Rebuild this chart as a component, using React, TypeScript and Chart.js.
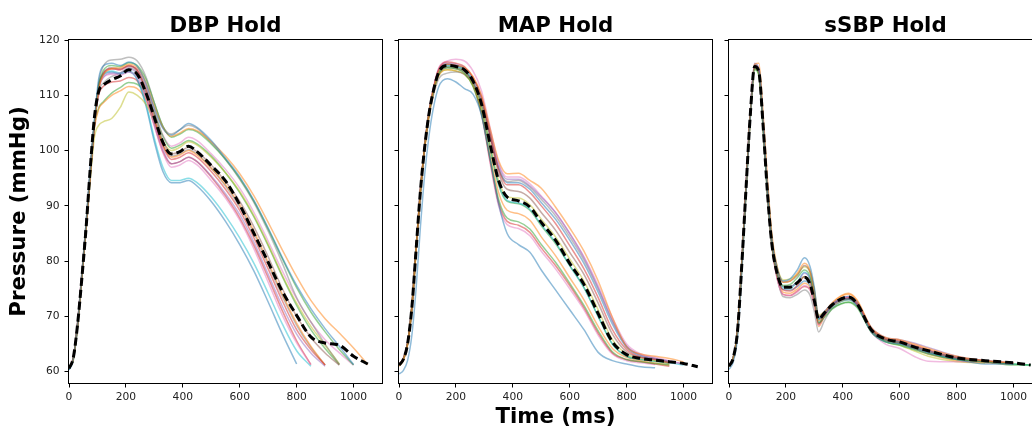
import React, { useEffect, useRef } from "react";
import { Chart, registerables } from "chart.js";
Chart.register(...registerables);

const PANEL_TITLES = ["DBP Hold", "MAP Hold", "sSBP Hold"];
const Y_LABEL = "Pressure (mmHg)";
const X_LABEL = "Time (ms)";
const Y_TICKS = [60, 70, 80, 90, 100, 110, 120];
const X_TICKS = [0, 200, 400, 600, 800, 1000];
const TAB10 = ["31,119,180", "255,127,14", "44,160,44", "214,39,40", "148,103,189", "140,86,75", "227,119,194", "127,127,127", "188,189,34", "23,190,207"];

// ---------- DBP Hold ----------
const dbpTime = [0, 15, 30, 45, 60, 75, 90, 105, 120, 150, 180, 210, 240, 270, 300, 330, 360, 390, 420, 450, 500, 550, 600, 650, 700, 750, 800, 850, 900, 950, 1000, 1050];
const dbpMean = [60.6, 62.5, 68.5, 76.8, 86, 97, 106.3, 110.8, 111.8, 112.8, 113.5, 114.6, 113.8, 110.5, 106, 101.5, 99.4, 99.8, 100.8, 99.8, 97.3, 94.5, 90.2, 85, 79.8, 74.5, 70.2, 66.3, 65.2, 64.8, 62.8, 61.4];
const dbpTraces = [
  [60.4, 62.4, 68.6, 77.6, 86.8, 96.8, 106, 113.2, 115.3, 115.8, 115.4, 116, 115.2, 112.2, 107.6, 104, 102.8, 103.8, 104.9, 104.2, 101.8, 98.6, 95.2, 91, 86, 80.6, 75.6, 71.4, 67.8, 64.6, 61.3, null],
  [60.6, 62.2, 68.2, 77, 86, 95.8, 104.8, 111.2, 113.6, 114.8, 115, 115.6, 115, 112.4, 108, 104.2, 102.6, 103.2, 104, 103.6, 101.6, 99, 95.8, 91.8, 87, 82, 77.2, 72.9, 69.6, 67, 64.3, 61.3],
  [60.5, 62.3, 68.4, 77.2, 86.4, 96.2, 105.2, 112, 114.4, 115.4, 115.2, 115.9, 115.4, 113, 108.6, 104.4, 102.4, 103, 103.8, 103.4, 101.2, 98.4, 95, 90.8, 85.8, 80.4, 75.2, 70.8, 67.2, 64, 61.2, null],
  [60.6, 62.5, 68.6, 77.4, 86.4, 96.2, 105, 111.6, 113.8, 114.8, 114.6, 115.4, 114.4, 110.8, 105.6, 100.8, 98.4, 98.8, 99.6, 98.8, 96.2, 93, 89.2, 84.2, 78.6, 72.8, 67.6, 64, 61.2, null, null, null],
  [60.5, 62.4, 68.4, 77.2, 86.2, 96, 104.8, 111.2, 113.2, 114, 114, 114.8, 113.8, 110.2, 105, 100.2, 97.6, 98, 98.8, 98, 95.4, 92.2, 88.4, 83.4, 77.6, 71.8, 66.8, 63.4, 61, null, null, null],
  [60.6, 62.4, 68.5, 77.3, 86.4, 96.3, 105.2, 111.8, 114, 115, 114.8, 115.3, 114.6, 111.4, 106.6, 101.8, 99.4, 99.8, 100.6, 99.8, 97.4, 94.4, 90.8, 86.2, 80.8, 75, 70, 66.2, 63.4, 61.2, null, null],
  [60.5, 62.5, 68.7, 77.6, 86.6, 96.4, 105.2, 111.4, 113.2, 113.8, 113.6, 114.2, 113.2, 109.6, 104.4, 99.6, 97, 97.4, 98.2, 97.4, 94.6, 91.4, 87.4, 82.2, 76.2, 70.2, 65.2, 61.3, null, null, null, null],
  [60.4, 62.2, 68.2, 77, 86.2, 96.2, 105.4, 112.6, 115.2, 116.4, 116.5, 116.9, 116.2, 113.4, 108.6, 104.4, 103, 103.8, 104.6, 104, 101.4, 98.4, 94.8, 90.6, 85.4, 79.6, 73.4, 69, 65, 61.3, null, null],
  [60.6, 62.4, 68.4, 77, 85.8, 95, 102.6, 104.6, 105.2, 105.8, 107.8, 110.6, 110, 108.4, 105.2, 101.6, 100, 100.6, 101.6, 101, 98.8, 96, 92.6, 88.2, 83, 77.4, 72.4, 68.2, 64.8, 61.4, null, null],
  [60.4, 62.4, 68.6, 77.6, 86.8, 96.8, 105.6, 112, 113.8, 114.4, 114, 114.4, 113, 108.6, 102.2, 97, 94.6, 94.6, 95, 94.2, 91.6, 88.2, 84.2, 79.6, 74.2, 68.6, 63.8, 61, null, null, null, null],
  [60.3, 62, 68, 77, 86.4, 96.4, 105.4, 111.8, 113.6, 114.2, 113.8, 114.2, 112.8, 108.2, 101.6, 96.2, 94.2, 94.2, 94.6, 93.6, 90.8, 87.2, 83, 78.2, 72.6, 66.8, 61.4, null, null, null, null, null],
  [60.6, 62.4, 68.4, 77.2, 86, 95.6, 104.2, 107.6, 108.6, 110, 110.8, 111.6, 111.2, 109.2, 105.4, 101, 98.8, 99.2, 100, 99.2, 96.8, 93.8, 90.2, 85.4, 79.8, 74, 68.8, 64.6, 61.2, null, null, null],
  [60.5, 62.3, 68.3, 77.1, 86, 95.8, 104.6, 107.8, 108.8, 110.4, 111.4, 112.3, 112, 110.4, 106.8, 102.6, 100.4, 101, 101.8, 101.2, 99, 96, 92.4, 88, 82.8, 77.2, 72, 67.6, 64.2, 61.3, null, null],
  [60.6, 62.6, 68.8, 77.8, 86.8, 96.6, 105.2, 110.2, 111.6, 112.4, 112.6, 113.2, 112.6, 109.6, 104.6, 99.8, 97.6, 98, 98.8, 98, 95.2, 91.8, 87.8, 82.8, 77, 71, 65.6, 61.3, null, null, null, null],
  [60.5, 62.4, 68.5, 77.4, 86.4, 96.2, 105.2, 111.8, 114, 114.8, 114.6, 115.2, 114.6, 111.8, 107.2, 102.8, 100.8, 101.4, 102.4, 101.8, 99.4, 96.6, 93.2, 88.8, 83.6, 78.2, 73.2, 69, 65.8, 63.4, 61.2, null],
  [60.5, 62.3, 68.4, 77.3, 86.4, 96.2, 105, 110.8, 112.2, 113.4, 114, 115, 114.2, 111, 106, 101.2, 99, 99.4, 100.2, 99.4, 96.8, 93.6, 89.8, 85, 79.4, 73.6, 68.4, 64.4, 61.2, null, null, null],
];
const dbpColors = [0, 1, 2, 3, 4, 5, 6, 7, 8, 9, 0, 1, 2, 3, 6, 7];

// ---------- MAP Hold ----------
const mapTime = [0, 15, 30, 45, 60, 75, 90, 105, 120, 140, 170, 200, 230, 260, 290, 320, 350, 380, 420, 460, 500, 550, 600, 650, 700, 750, 800, 850, 900, 950, 1000, 1050];
const mapMean = [61.2, 62.2, 65, 71.5, 82, 92.5, 100.5, 106.5, 110.6, 114.2, 115.4, 115.2, 114.6, 112.6, 108.4, 101.2, 94.6, 91.6, 90.9, 89.8, 87, 83.8, 79.6, 75.8, 70.5, 65.4, 63.1, 62.4, 62.1, 61.8, 61.5, 60.9];
const mapTraces = [
  [59.6, 60.2, 62, 66.5, 75, 86, 95.5, 102.5, 107.5, 111.6, 113, 112.4, 111.2, 110.2, 106.4, 98.6, 90.4, 85, 83, 81.6, 78.4, 74.8, 71.2, 67.6, 63.5, 62, 61.4, 60.9, 60.7, null, null, null],
  [61, 62, 64.8, 71.4, 82, 92.6, 100.6, 106.6, 110.8, 114.4, 115.6, 115.4, 115, 113.4, 110, 104, 98.2, 95.8, 95.9, 94.6, 93.2, 89.8, 86, 81.8, 76.4, 69.8, 64.5, 63.2, 62.8, 62.4, 61.8, null],
  [61.2, 62.2, 65, 71.6, 82.2, 92.6, 100.6, 106.6, 110.6, 114, 115, 114.8, 114, 111.6, 106.6, 98.6, 91.2, 87.8, 87.1, 85.8, 83, 79.8, 76, 72, 67.4, 63.6, 62.2, 61.8, 61.5, 61.2, null, null],
  [61.4, 62.4, 65.2, 71.8, 82.4, 92.8, 100.8, 106.8, 111, 114.8, 116, 115.8, 115.2, 113.2, 109.6, 103, 96.6, 93.8, 93.8, 92.4, 90, 86.8, 82.8, 78.6, 73.4, 67.6, 64, 62.6, 62.2, 61.6, null, null],
  [61.2, 62.2, 65, 71.6, 82.2, 92.6, 100.6, 106.8, 110.8, 114.6, 115.8, 115.6, 115, 113.2, 109.8, 103.6, 97.4, 94.8, 94.8, 93.6, 91.6, 88.8, 85, 80.6, 75.2, 69.2, 64.6, 63, 62.4, 61.9, 61.4, null],
  [61.2, 62.2, 65, 71.6, 82, 92.4, 100.4, 106.4, 110.4, 113.8, 115, 114.8, 114.2, 112.4, 108.8, 102.4, 96, 93, 92.6, 91.4, 88.8, 85.6, 81.6, 77.6, 72.4, 66.8, 63.6, 62.6, 62.2, 61.8, null, null],
  [61.2, 62.2, 65, 71.6, 82.2, 92.8, 100.8, 107, 111.2, 115, 116.2, 116.5, 116.2, 114.4, 110.8, 104.2, 97.8, 95.2, 95.2, 94, 91.8, 88.8, 85, 80.8, 75.6, 69.8, 65, 63.2, 62.6, 62, 61.4, null],
  [61.2, 62.2, 65, 71.4, 81.8, 92.2, 100.2, 106, 109.8, 113, 114, 114.2, 113.8, 112.2, 108.8, 102.8, 96.8, 94.4, 94.6, 93.4, 91.2, 88.2, 84.4, 80.2, 75, 69.2, 64.6, 63, 62.4, 61.8, null, null],
  [61.2, 62.2, 65, 71.4, 81.8, 92.2, 100.2, 106.2, 110.2, 113.6, 114.6, 114.4, 113.8, 111.8, 107.8, 101, 94.6, 91.6, 91.4, 90.2, 87.6, 84.4, 80.4, 76.4, 71.2, 65.8, 63.2, 62.4, 62, 61.6, null, null],
  [61.2, 62.2, 65, 71.6, 82.2, 92.6, 100.6, 106.6, 110.6, 114.4, 115.4, 115.2, 114.6, 112.4, 108, 100.6, 94, 91, 90.5, 89.4, 86.6, 83.4, 79.2, 75.2, 70, 65, 62.8, 62.2, 61.9, 61.6, 61.2, null],
  [61.3, 62.3, 65.1, 71.7, 82.2, 92.6, 100.6, 106.6, 110.8, 114.6, 115.6, 115.4, 114.8, 113, 109.4, 103, 96.8, 94.2, 94.2, 93, 90.6, 87.6, 83.8, 79.6, 74.4, 68.6, 64.4, 62.8, 62.3, 61.8, null, null],
  [61.2, 62.2, 65, 71.5, 82, 92.4, 100.4, 106.2, 110.2, 113.6, 114.6, 114.4, 113.8, 111.8, 107.2, 99.4, 92.4, 89.2, 88.6, 87.4, 84.4, 81, 77, 73, 68.2, 64.2, 62.6, 62, 61.6, 61.2, null, null],
  [61.1, 62.1, 64.9, 71.5, 82, 92.5, 100.5, 106.5, 110.6, 114.2, 115.2, 115, 114.4, 112.4, 108, 100.6, 93.8, 90.8, 90.4, 89.2, 86.4, 83.2, 79.2, 75.2, 70, 65, 62.8, 62.2, 61.9, 61.5, null, null],
  [61.3, 62.3, 65.1, 71.7, 82.2, 92.6, 100.6, 106.6, 110.8, 114.6, 115.6, 115.4, 114.6, 112, 106.8, 98.2, 90.6, 87.2, 86.5, 85.2, 82.4, 79.2, 75.6, 71.6, 67, 63.4, 62.2, 61.8, 61.4, 61, null, null],
  [61.2, 62.2, 65, 71.6, 82.2, 92.6, 100.6, 106.6, 110.6, 114.4, 115.3, 115.1, 114.4, 111.8, 106.4, 97.8, 90, 86.6, 85.9, 84.6, 81.8, 78.6, 75, 71.2, 66.6, 63.2, 62, 61.6, 61.3, null, null, null],
];
const mapColors = [0, 1, 2, 3, 4, 5, 6, 7, 8, 9, 0, 1, 2, 3, 6];

// ---------- sSBP Hold ----------
const ssbpTime = [0, 15, 30, 45, 60, 75, 90, 105, 120, 135, 150, 170, 190, 215, 240, 265, 285, 300, 315, 335, 365, 420, 450, 500, 550, 600, 650, 700, 800, 900, 1000, 1060];
const ssbpMean = [61, 62.5, 67.4, 79.4, 93.3, 106.6, 115.2, 114.2, 104.4, 92.5, 83.4, 77.6, 75.3, 75.3, 76.1, 77.1, 75.8, 72.8, 69.5, 70.6, 72.2, 73.5, 72.3, 67.6, 65.9, 65.4, 64.5, 63.8, 62.5, 62, 61.6, 61.2];
const ssbpTraces = [
  [60.4, 61.8, 66.2, 77.8, 92.4, 106, 115.2, 114.8, 105.2, 93.4, 84.2, 78.6, 76.4, 76.8, 78.4, 80.6, 79, 75.2, 69.6, 70.4, 72.2, 73.2, 72, 67.2, 65.4, 65, 64.2, 63.4, 62.2, 61.4, 61.4, null],
  [61, 62.4, 67, 78.8, 92.8, 106.2, 115.6, 115.8, 106.6, 95, 85.2, 78.8, 76.2, 76.4, 77.8, 79.6, 78.2, 74.4, 69.2, 70.6, 72.6, 74.2, 73, 68, 66.2, 65.8, 65, 64.2, 62.8, 62, 61.6, null],
  [61, 62.5, 67.4, 79.2, 93, 106.2, 114.6, 113.6, 104, 92.2, 83.2, 77.4, 75.6, 75.8, 77, 78.4, 77.2, 73.6, 68.8, 69.8, 71.4, 72.5, 71.6, 67.2, 65.4, 64.8, 64, 63.2, 62.2, 61.8, 61.4, 61.2],
  [61.2, 62.6, 67.6, 79.6, 93.6, 106.8, 115.4, 114.4, 104.6, 92.6, 83.4, 77.2, 74.8, 74.6, 75.6, 77.2, 76.2, 73.2, 68.6, 70.2, 72.2, 73.4, 72.4, 67.8, 66, 65.6, 64.8, 64, 62.6, 62, 61.6, null],
  [61.1, 62.6, 67.6, 79.6, 93.6, 106.8, 115.8, 114.8, 105, 93, 83.8, 77.8, 75.4, 75.4, 76.2, 77.8, 76.8, 73.8, 69.8, 70.8, 72.4, 73.6, 72.6, 68, 66.2, 65.8, 65.2, 64.4, 62.8, 62, 61.6, null],
  [61, 62.5, 67.4, 79.4, 93.4, 106.6, 115.2, 114.4, 104.8, 93, 84, 78.4, 76.2, 76.4, 77.4, 79.2, 78, 74.6, 70, 70.8, 72.2, 73.2, 72.2, 67.6, 65.8, 65.2, 64.4, 63.6, 62.4, 61.8, 61.4, null],
  [61, 62.4, 67.4, 79.4, 93.4, 106.6, 115.4, 114.6, 104.6, 92.4, 83, 76.6, 74, 73.8, 74.4, 75.6, 74.8, 72.2, 68.4, 70, 72, 73.4, 72, 67.2, 65, 64.2, 62.8, 61.9, 61.8, 61.8, 61.4, null],
  [61.2, 62.6, 67.6, 79.6, 93.4, 106.4, 115, 114, 104.2, 92.2, 83, 76.8, 73.6, 73.4, 74, 74.8, 73.8, 70.8, 67.2, 69.2, 71.6, 73, 72, 67.4, 65.6, 65.2, 64.4, 63.6, 62.4, 61.8, 61.4, null],
  [61, 62.4, 67.2, 79, 93, 106.2, 114.8, 113.8, 104.4, 93, 84.4, 78.8, 76.6, 76.8, 77.6, 79, 78, 74.8, 70.2, 70.8, 72, 73.2, 72, 67.2, 65.4, 64.8, 63.8, 62.8, 61.8, 61.6, null, null],
  [61, 62.5, 67.4, 79.4, 93.4, 106.6, 115.2, 114.2, 104.4, 92.6, 83.6, 77.6, 75.2, 75.2, 76.2, 78, 76.8, 73.4, 69, 70.2, 71.8, 73, 72, 67.6, 65.8, 65.2, 64.4, 63.6, 62.4, 61.8, 61.4, 61.2],
  [61.1, 62.5, 67.5, 79.5, 93.5, 106.7, 115.6, 114.6, 104.6, 92.8, 83.6, 77.4, 74.9, 74.8, 75.4, 76.4, 75.6, 73, 69.4, 70.8, 72.4, 73.6, 72.6, 67.8, 66, 65.4, 64.6, 63.8, 62.6, 62, 61.4, null],
  [61, 62.4, 67.2, 79.2, 93.2, 106.4, 115.4, 115, 105.6, 93.8, 84.2, 77.8, 74.4, 74.2, 75, 76, 75.2, 72.4, 68.2, 70, 72.4, 74, 72.8, 67.8, 65.8, 65.2, 64.2, 63.2, 62, 61.6, 61.4, null],
  [61, 62.5, 67.4, 79.4, 93.2, 106.4, 114.8, 113.8, 104, 92.4, 83.4, 77.6, 75.4, 75.4, 76.2, 77.2, 76.6, 73.6, 69.6, 70.4, 71.6, 72.6, 71.8, 67.4, 65.6, 65, 64.2, 63.4, 62.2, 61.8, 61.2, 61.2],
  [61.2, 62.6, 67.6, 79.6, 93.6, 106.8, 115.4, 114.2, 104.2, 92.4, 83.2, 76.8, 74, 73.8, 74.6, 75.4, 74.8, 72, 68.8, 70.2, 72.2, 73.2, 72.2, 67.6, 65.8, 65.4, 64.6, 63.8, 62.4, 61.8, 61.4, null],
];
const ssbpColors = [0, 1, 2, 3, 4, 5, 6, 7, 8, 9, 0, 1, 2, 3];

const PANELS = [
  { time: dbpTime, mean: dbpMean, traces: dbpTraces, colors: dbpColors },
  { time: mapTime, mean: mapMean, traces: mapTraces, colors: mapColors },
  { time: ssbpTime, mean: ssbpMean, traces: ssbpTraces, colors: ssbpColors },
];

// layout (canvas placement in the page)
const CANVAS_H = 429;
const LAYOUT = [
  { left: 0, width: 390, yWidth: 69, padRight: 8 },
  { left: 390, width: 330, yWidth: 9, padRight: 8 },
  { left: 720, width: 340, yWidth: 9, padRight: 18 },
];

const FONT = "'DejaVu Sans', sans-serif";

const toPoints = (time: number[], vals: (number | null)[]) =>
  time.map((t, i) => ({ x: t, y: vals[i] })).filter((p) => p.y !== null && p.y !== undefined);

const framePlugin = {
  id: "frameDecor",
  afterDraw(chart: any, _args: any, opts: any) {
    const { ctx, chartArea } = chart;
    const { left, top, right, bottom } = chartArea;
    ctx.save();
    ctx.strokeStyle = "#000";
    ctx.lineWidth = 1;
    ctx.strokeRect(Math.round(left) - 0.5, Math.round(top) - 0.5, Math.round(right - left) + 1, Math.round(bottom - top) + 1);
    ctx.fillStyle = "#000";
    ctx.font = `bold 21.3px ${FONT}`;
    ctx.textAlign = "center";
    ctx.textBaseline = "alphabetic";
    ctx.fillText(opts.title, (left + right) / 2, 32.3);
    ctx.restore();
  },
};

function Panel({ idx }: { idx: number }) {
  const ref = useRef<HTMLCanvasElement | null>(null);
  useEffect(() => {
    const p = PANELS[idx];
    const L = LAYOUT[idx];
    const datasets: any[] = [
      {
        data: toPoints(p.time, p.mean),
        borderColor: "#000",
        borderWidth: 3,
        borderDash: [8, 4],
        pointRadius: 0,
        cubicInterpolationMode: "monotone",
        fill: false,
        order: 0,
      },
      ...p.traces.map((tr, k) => ({
        data: toPoints(p.time, tr),
        borderColor: `rgba(${TAB10[p.colors[k]]},0.5)`,
        borderWidth: 1.5,
        pointRadius: 0,
        cubicInterpolationMode: "monotone",
        fill: false,
        order: 1,
      })),
    ];
    const tickFont = { family: FONT, size: 10.7 };
    const chart = new Chart(ref.current as HTMLCanvasElement, {
      type: "line",
      data: { datasets },
      options: {
        animation: false,
        responsive: false,
        maintainAspectRatio: false,
        events: [],
        layout: { padding: { left: 0, right: L.padRight, top: 40, bottom: 0 } },
        plugins: {
          legend: { display: false },
          tooltip: { enabled: false },
          frameDecor: { title: PANEL_TITLES[idx] },
        } as any,
        scales: {
          x: {
            type: "linear",
            min: 0,
            max: 1100,
            afterBuildTicks: (s: any) => {
              s.ticks = X_TICKS.map((v) => ({ value: v }));
            },
            afterFit: (s: any) => {
              s.height = 46;
            },
            grid: { display: true, drawOnChartArea: false, drawTicks: true, tickLength: 4.5, color: "#000", lineWidth: 1 },
            border: { display: false },
            ticks: {
              font: tickFont,
              color: "#222",
              padding: 3,
              maxRotation: 0,
              autoSkip: false,
              callback: (v: any) => String(v),
            },
            title: {
              display: idx === 1,
              text: X_LABEL,
              color: "#000",
              font: { family: FONT, size: 21.3, weight: "bold", lineHeight: 1.1 },
              padding: { top: 0, bottom: 0 },
            },
          },
          y: {
            type: "linear",
            min: 57.96,
            max: 120,
            afterBuildTicks: (s: any) => {
              s.ticks = Y_TICKS.map((v) => ({ value: v }));
            },
            afterFit: (s: any) => {
              s.width = L.yWidth;
            },
            grid: { display: true, drawOnChartArea: false, drawTicks: true, tickLength: 4.5, color: "#000", lineWidth: 1 },
            border: { display: false },
            ticks: { display: idx === 0, font: tickFont, color: "#222", padding: 5, callback: (v: any) => String(v) },
            title: {
              display: idx === 0,
              text: Y_LABEL,
              color: "#000",
              font: { family: FONT, size: 21.3, weight: "bold", lineHeight: 1.1 },
              padding: { top: 8, bottom: 0 },
            },
          },
        },
      } as any,
      plugins: [framePlugin as any],
    });
    return () => chart.destroy();
  }, [idx]);
  const L = LAYOUT[idx];
  return (
    <canvas
      ref={ref}
      width={L.width}
      height={CANVAS_H}
      style={{ position: "absolute", left: L.left, top: 0, width: L.width, height: CANVAS_H }}
    />
  );
}

export default function App() {
  return (
    <div
      style={{
        position: "absolute",
        left: 0,
        top: 0,
        width: 1032,
        height: 429,
        overflow: "hidden",
        background: "#fff",
      }}
    >
      <Panel idx={0} />
      <Panel idx={1} />
      <Panel idx={2} />
    </div>
  );
}
